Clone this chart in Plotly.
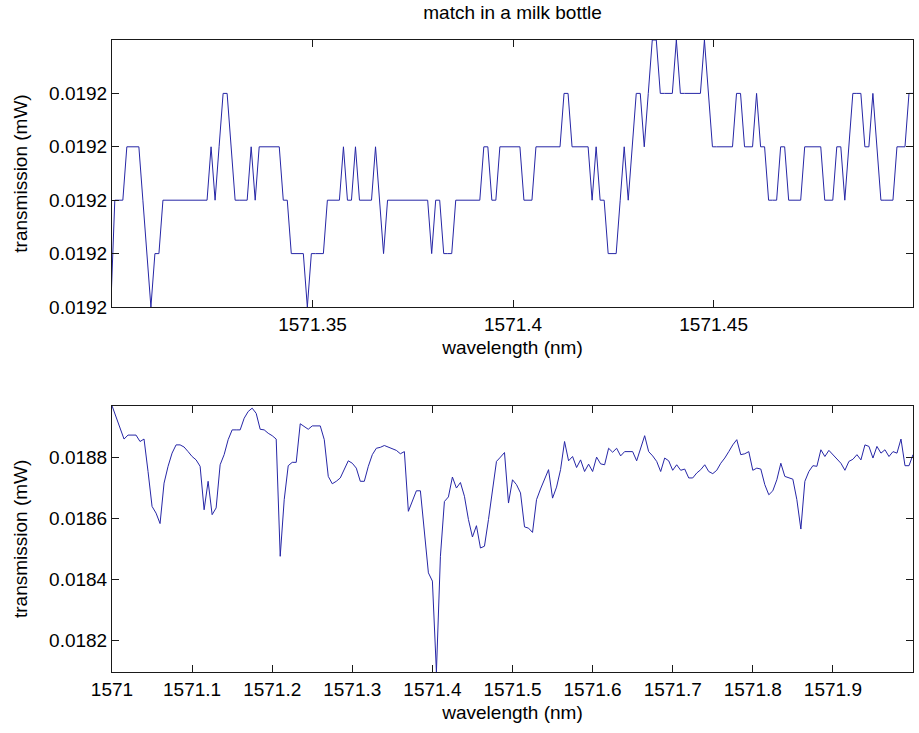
import numpy as np
import plotly.graph_objects as go

# ---------------- data ----------------
# top panel: quantised readings (level codes) on a 0.001 nm grid
levels_top = [0.019197, 0.019198, 0.019199, 0.019200, 0.019201, 0.019202]
codes_top = [0,
    2, 2, 2, 3, 3, 3, 3, 2, 1, 0, 1, 1,
    2, 2, 2, 2, 2, 2, 2, 2, 2, 2, 2, 2,
    3, 2, 3, 4, 4, 3,
    2, 2, 2, 2, 3, 2, 3, 3, 3, 3, 3, 3, 2, 2,
    1, 1, 1, 1, 0, 1, 1, 1, 1, 2, 2, 2, 2,
    3, 2, 2, 3, 2, 2, 2, 2, 3, 2, 1,
    2, 2, 2, 2, 2, 2, 2, 2, 2, 2, 2,
    1, 2, 2, 1, 1, 1,
    2, 2, 2, 2, 2, 2, 2, 3, 3, 2, 2,
    3, 3, 3, 3, 3, 3, 2, 2, 2,
    3, 3, 3, 3, 3, 3, 3, 4, 4,
    3, 3, 3, 3, 3, 2, 3, 2, 2, 1, 1, 1,
    2, 3, 2, 3, 4, 4, 3, 4, 5, 5,
    4, 4, 4, 4, 5, 4, 4, 4, 4, 4, 4, 5, 4,
    3, 3, 3, 3, 3, 3, 4, 4, 3, 3, 3, 4, 3, 3,
    2, 2, 2, 3, 3, 2, 2, 2, 2, 3, 3, 3, 3, 3,
    2, 2, 2, 3, 3, 2, 3, 4, 4, 4, 3, 3, 4, 3,
    2, 2, 2, 2, 3, 3, 3, 4, 4]
wl_top_start = 1571.2997
wl_top_step = 0.001

# bottom panel: transmission in nW (1e-6 mW) on a 0.005 nm grid
trans_bottom_nW = [
    18968, 18933, 18895, 18859, 18872, 18872, 18872, 18851, 18859, 18753,
    18639, 18617, 18583, 18715, 18770, 18813, 18840, 18840, 18833, 18818,
    18802, 18791, 18770, 18628, 18721, 18612, 18634, 18775, 18808, 18857,
    18889, 18889, 18889, 18927, 18949, 18960, 18943, 18891, 18889, 18878,
    18870, 18859, 18476, 18661, 18772, 18783, 18783, 18909, 18900, 18891,
    18902, 18902, 18902, 18857, 18737, 18713, 18721, 18732, 18759, 18788,
    18780, 18764, 18721, 18721, 18770, 18808, 18829, 18832, 18838, 18833,
    18829, 18822, 18811, 18818, 18623, 18655, 18690, 18690, 18552, 18422,
    18395, 18098, 18476, 18655, 18670, 18735, 18699, 18717, 18672, 18596,
    18539, 18576, 18503, 18509, 18596, 18693, 18786, 18800, 18815, 18650,
    18726, 18710, 18683, 18572, 18568, 18554, 18661, 18696, 18726, 18759,
    18666, 18702, 18759, 18851, 18788, 18802, 18766, 18791, 18753, 18777,
    18753, 18800, 18778, 18775, 18829, 18816, 18829, 18804, 18818, 18818,
    18818, 18788, 18829, 18870, 18818, 18804, 18786, 18753, 18797, 18788,
    18757, 18775, 18757, 18761, 18732, 18732, 18748, 18759, 18775, 18753,
    18746, 18757, 18780, 18797, 18818, 18840, 18857, 18808, 18811, 18818,
    18757, 18764, 18761, 18710, 18677, 18690, 18726, 18780, 18737, 18732,
    18728, 18661, 18565, 18721, 18753, 18772, 18770, 18824, 18802, 18822,
    18808, 18797, 18780, 18757, 18786, 18793, 18808, 18791, 18840, 18835,
    18797, 18835, 18813, 18824, 18802, 18818, 18813, 18859, 18772, 18772,
    18808]
wl_bottom_start = 1571.0
wl_bottom_step = 0.005

top_tickvals = [1571.35, 1571.4, 1571.45]
top_ticktext = ["1571.35", "1571.4", "1571.45"]
bottom_tickvals = [1571.0, 1571.1, 1571.2, 1571.3, 1571.4, 1571.5, 1571.6, 1571.7, 1571.8, 1571.9]
bottom_ticktext = ["1571", "1571.1", "1571.2", "1571.3", "1571.4", "1571.5",
                   "1571.6", "1571.7", "1571.8", "1571.9"]
top_ytickvals = levels_top[:5]
top_yticktext = ["0.0192"] * 5
bottom_ytickvals = [0.0182, 0.0184, 0.0186, 0.0188]
bottom_yticktext = ["0.0182", "0.0184", "0.0186", "0.0188"]

title_text = "match in a milk bottle"
xlabel = "wavelength (nm)"
ylabel = "transmission (mW)"

# ---------------- build ----------------
wl_top = wl_top_start + wl_top_step * np.arange(len(codes_top))
trans_top = [levels_top[c] for c in codes_top]
wl_bottom = wl_bottom_start + wl_bottom_step * np.arange(len(trans_bottom_nW))
trans_bottom = [v * 1e-6 for v in trans_bottom_nW]

W, H = 919, 733
line_color = "#2626a6"
axis_color = "#1a1a1a"
FONT = "Liberation Sans, Arial, Helvetica, sans-serif"
FS = 19

fig = go.Figure()
fig.add_trace(go.Scatter(x=wl_top, y=trans_top, mode="lines",
                         line=dict(color=line_color, width=1),
                         xaxis="x", yaxis="y", showlegend=False))
fig.add_trace(go.Scatter(x=wl_bottom, y=trans_bottom, mode="lines",
                         line=dict(color=line_color, width=1),
                         xaxis="x2", yaxis="y2", showlegend=False))

xdom = [112 / W, 913 / W]
common = dict(showline=True, linecolor=axis_color, linewidth=1, mirror="ticks",
              ticks="inside", ticklen=7, tickcolor=axis_color, tickwidth=1,
              showgrid=False, zeroline=False,
              tickfont=dict(family=FONT, size=FS, color="black"))

fig.update_layout(
    width=W, height=H,
    margin=dict(l=0, r=0, t=0, b=0),
    paper_bgcolor="white", plot_bgcolor="white",
    font=dict(family=FONT, size=FS, color="black"),
    title=dict(text=title_text, x=(112 + 913) / 2 / W, xanchor="center",
               y=1 - 12 / H, yanchor="middle",
               font=dict(family=FONT, size=FS, color="black")),
    xaxis=dict(domain=xdom, anchor="y", range=[1571.3, wl_top[-1]],
               tickvals=top_tickvals, ticktext=top_ticktext,
               title=dict(text=xlabel, standoff=6, font=dict(family=FONT, size=FS)),
               automargin=False, **common),
    yaxis=dict(domain=[1 - 307 / H, 1 - 40 / H], anchor="x",
               range=[levels_top[0], levels_top[5]],
               tickvals=top_ytickvals, ticktext=top_yticktext,
               title=dict(text=ylabel, standoff=16, font=dict(family=FONT, size=FS)),
               automargin=False, **common),
    xaxis2=dict(domain=xdom, anchor="y2", range=[wl_bottom[0], wl_bottom[-1]],
                tickvals=bottom_tickvals, ticktext=bottom_ticktext,
                title=dict(text=xlabel, standoff=6, font=dict(family=FONT, size=FS)),
                automargin=False, **common),
    yaxis2=dict(domain=[1 - 672 / H, 1 - 405.7 / H], anchor="x2",
                range=[min(trans_bottom), max(trans_bottom)],
                tickvals=bottom_ytickvals, ticktext=bottom_yticktext,
                title=dict(text=ylabel, standoff=16, font=dict(family=FONT, size=FS)),
                automargin=False, **common),
)

fig.write_html("out.html")
